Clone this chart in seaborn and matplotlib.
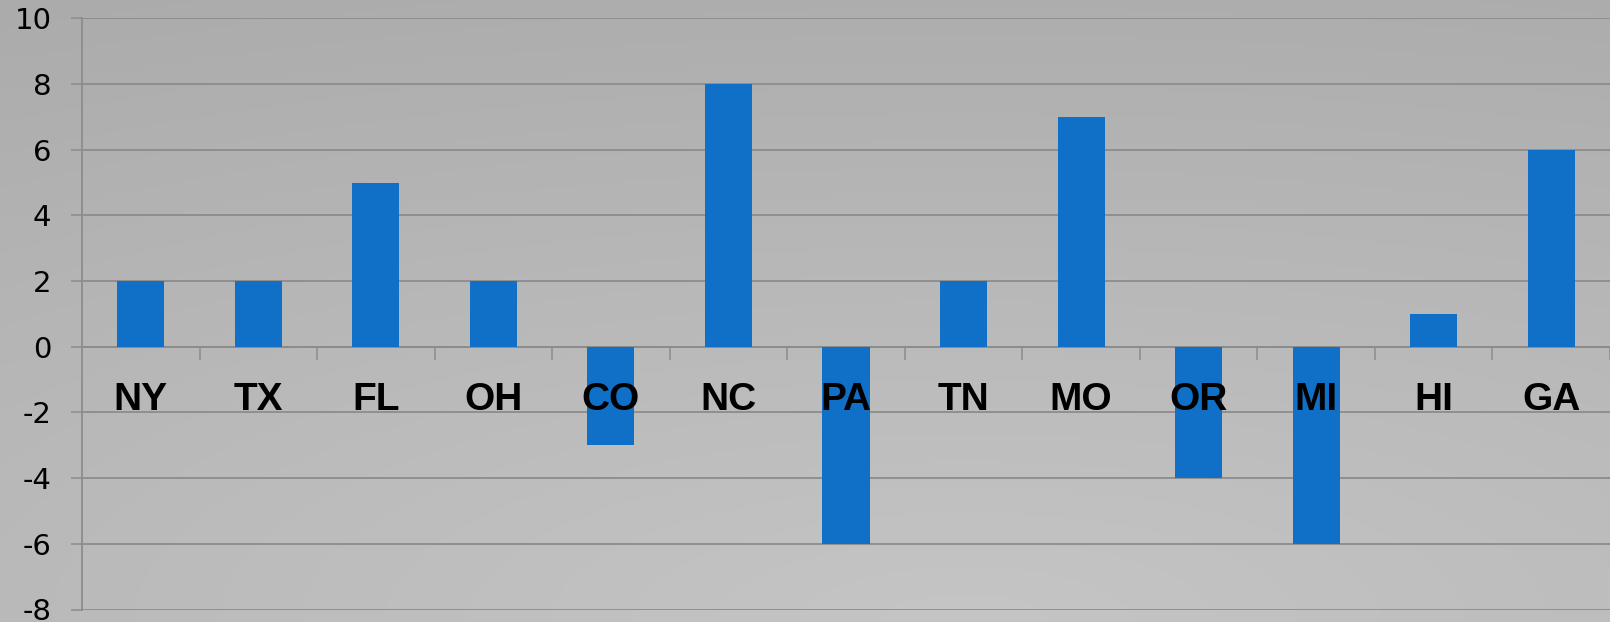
import numpy as np
import matplotlib
matplotlib.use("Agg")
import matplotlib.pyplot as plt
import seaborn as sns

states = ["NY", "TX", "FL", "OH", "CO", "NC", "PA", "TN", "MO", "OR", "MI", "HI", "GA"]
values = [2, 2, 5, 2, -3, 8, -6, 2, 7, -4, -6, 1, 6]
yticks = [-8, -6, -4, -2, 0, 2, 4, 6, 8, 10]
ytick_labels = ["-8", "-6", "-4", "-2", "0", "2", "4", "6", "8", "10"]

sns.set_theme(style="white")
plt.rcParams["axes.unicode_minus"] = False
plt.rcParams["font.family"] = ["DejaVu Sans"]

W, H = 1610, 622
fig = plt.figure(figsize=(W / 100, H / 100), dpi=100)

# background gradient (lighter toward bottom centre, darker toward top)
bg = fig.add_axes([0, 0, 1, 1], zorder=-10)
xx, yy = np.meshgrid(np.linspace(0, 1, 400), np.linspace(0, 1, 160))
dist = np.sqrt(((xx - 0.6) / 1.2) ** 2 + (yy - 0.0) ** 2)
val = (197 - (197 - 171) * dist / 1.12) / 255.0
val = np.clip(val, 0, 1)
img = np.dstack([val, val, val])
bg.imshow(img, origin="lower", extent=[0, 1, 0, 1], aspect="auto")
bg.set_axis_off()

slot = 117.9
left_px = 82
ax_w = (W - left_px) / W
ax = fig.add_axes([left_px / W, 12.5 / H, ax_w, (609.5 - 18.3) / H])
ax.set_facecolor("none")

grid_c = "#8c8c8c"
sns.barplot(x=states, y=values, color="#1070c8", width=0.4, saturation=1,
            ax=ax, zorder=3, edgecolor="none")

ax.set_xlim(-0.5, -0.5 + (W - left_px) / slot)
ax.set_ylim(-8, 10)
ax.set_yticks(yticks)
ax.set_yticklabels(ytick_labels, fontsize=21, color="black")
ax.yaxis.grid(True, color=grid_c, linewidth=1.3, zorder=0)
ax.set_axisbelow(True)
ax.tick_params(axis="y", length=8, width=1.1, color=grid_c, pad=14, left=True)

# x axis at zero with boundary ticks
ax.spines["bottom"].set_position(("data", 0))
ax.spines["bottom"].set_color(grid_c)
ax.spines["bottom"].set_linewidth(1.3)
ax.spines["left"].set_color(grid_c)
ax.spines["left"].set_linewidth(1.3)
ax.spines["top"].set_visible(False)
ax.spines["right"].set_visible(False)
ax.set_xticks(np.arange(len(states)))
ax.set_xticklabels([])
ax.tick_params(axis="x", which="major", length=0)
ax.set_xticks(np.arange(len(states)) + 0.5, minor=True)
ax.tick_params(axis="x", which="minor", length=9.5, width=1.1, color=grid_c, bottom=True, direction="out")
ax.set_xlabel("")
ax.set_ylabel("")

for i, s in enumerate(states):
    ax.text(i, -1.93, s, ha="center", va="baseline", fontsize=28, fontweight="bold",
            family=["Liberation Sans", "DejaVu Sans"], color="black", zorder=5)

fig.savefig("out.png", dpi=100)
